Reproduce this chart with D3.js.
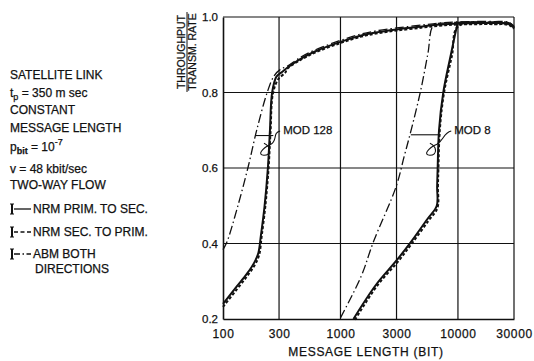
<!DOCTYPE html>
<html><head><meta charset="utf-8">
<script src="https://cdn.jsdelivr.net/npm/d3@7"></script>
<style>
body{margin:0;background:#fff;}
svg text{font-family:"Liberation Sans",Arial,sans-serif;fill:#111;stroke:#111;stroke-width:0.25px;}
</style></head><body>
<svg id="c" width="534" height="361"></svg>
<script>
// ---- data ----
const xTicks = [100, 300, 1000, 3000, 10000, 30000];
const yTicks = [0.2, 0.4, 0.6, 0.8, 1.0];
const xGrid = [300, 1000, 3000, 10000, 30000];
const yGrid = [0.4, 0.6, 0.8, 1.0];

// upper common envelope (message length, throughput)
const envelope = [[350,0.865],[450,0.888],[600,0.908],[1000,0.934],[1500,0.951],[2000,0.959],[3000,0.967],[5000,0.975],[7000,0.980],[10000,0.983],[20000,0.984],[27000,0.982],[30000,0.972]];
const envelopeTail = envelope.filter(d => d[0] >= 10000);

const nrmPrimMod128 = [[100,0.24],[130,0.285],[160,0.32],[185,0.35],[200,0.375],[210,0.42],[226,0.5],[241,0.6],[251,0.7],[262,0.8],[285,0.842],[320,0.855]];
const nrmSecMod128  = [[100,0.235],[130,0.28],[160,0.316],[187,0.347],[203,0.372],[213,0.42],[229,0.5],[244,0.6],[254,0.7],[266,0.8],[295,0.838],[340,0.856]];
const abmMod128     = [[100,0.38],[108,0.4],[135,0.5],[164,0.6],[195,0.7],[240,0.8],[272,0.84],[310,0.858]];

const nrmPrimMod8 = [[1290,0.2],[2000,0.29],[3000,0.355],[4000,0.405],[5500,0.465],[6600,0.5],[6650,0.55],[6720,0.6],[6900,0.7],[7500,0.8],[8700,0.9],[9800,0.975]];
const nrmSecMod8  = [[1330,0.2],[2050,0.29],[3050,0.352],[4050,0.402],[5600,0.462],[6700,0.497],[6750,0.55],[6820,0.6],[7000,0.7],[7600,0.8],[8900,0.9],[10000,0.977]];
const abmMod8     = [[1000,0.2],[1500,0.31],[1900,0.4],[2970,0.547],[3500,0.63],[3940,0.69],[4800,0.8],[5550,0.9],[6200,0.975],[8000,0.981]];

const infoLines = ["SATELLITE LINK", "tp", "CONSTANT", "MESSAGE LENGTH", "pbit", "v = 48 kbit/sec", "TWO-WAY FLOW"];
const legendItems = [["NRM PRIM. TO SEC.", "solid"], ["NRM SEC. TO PRIM.", "dash"], ["ABM BOTH", "dashdot"]];

// annotations in data space
const mod128Ann = {label: "MOD 128", lx: 325, ly: 0.69, from: 188, to: 268, y: 0.686, cx: 232, cy: 0.655};
const mod8Ann   = {label: "MOD 8",   lx: 9300, ly: 0.69, from: 3970, to: 7100, y: 0.688, cx: 6000, cy: 0.655};

// ---- chart ----
const svg = d3.select("#c");
const x = d3.scaleLog().domain([100, 30000]).range([223, 514]);
const y = d3.scaleLinear().domain([0.2, 1.0]).range([319, 17]);
const ink = "#111";

// grid
svg.append("g").selectAll("line").data(xGrid).join("line")
  .attr("x1", d => x(d)).attr("x2", d => x(d)).attr("y1", y(0.2)).attr("y2", y(1.0))
  .attr("stroke", ink).attr("stroke-width", 1.2);
svg.append("g").selectAll("line").data(yGrid).join("line")
  .attr("x1", x(100)).attr("x2", x(30000)).attr("y1", d => y(d)).attr("y2", d => y(d))
  .attr("stroke", ink).attr("stroke-width", 1.2);

// axes
const xAxis = svg.append("g").attr("transform", `translate(0,${y(0.2)})`)
  .call(d3.axisBottom(x).tickValues(xTicks).tickFormat(d3.format("d")).tickSize(0).tickPadding(10));
xAxis.select(".domain").attr("stroke", ink).attr("stroke-width", 1.6);
xAxis.selectAll("text").attr("font-size", 12).attr("letter-spacing", 0.6).attr("fill", ink)
  .style("font-family", "'Liberation Sans',Arial,sans-serif");

const yAxis = svg.append("g").attr("transform", `translate(${x(100)},0)`)
  .call(d3.axisLeft(y).tickValues(yTicks).tickFormat(d3.format(".1f")).tickSize(0).tickPadding(5));
yAxis.select(".domain").attr("stroke", ink).attr("stroke-width", 1.6);
yAxis.selectAll("text").attr("font-size", 11.5).attr("fill", ink)
  .style("font-family", "'Liberation Sans',Arial,sans-serif");

// axis titles
svg.append("text").attr("x", 366).attr("y", 356).attr("text-anchor", "middle")
  .attr("font-size", 12).attr("letter-spacing", 0.7).text("MESSAGE LENGTH  (BIT)");
const yt = svg.append("g").attr("transform", "translate(0,52) rotate(-90)");
yt.append("text").attr("x", 0).attr("y", 185).attr("text-anchor", "middle").attr("font-size", 10.5).text("THROUGHPUT");
yt.append("line").attr("x1", -40).attr("x2", 40).attr("y1", 187).attr("y2", 187).attr("stroke", ink).attr("stroke-width", 1);
yt.append("text").attr("x", 0).attr("y", 196).attr("text-anchor", "middle").attr("font-size", 10.5).text("TRANSM. RATE");

// curves
const lineS = d3.line().x(d => x(d[0])).y(d => y(d[1])).curve(d3.curveCatmullRom.alpha(0.5));
const styles = {
  solid: {w: 2.0, dash: null},
  dash: {w: 2.0, dash: "3,2"},
  dashdot: {w: 1.3, dash: "9,3,1.5,3"}
};
function draw(data, st, dy) {
  svg.append("path").datum(data.map(d => [d[0], d[1] + (dy || 0)]))
    .attr("d", lineS).attr("fill", "none").attr("stroke", ink)
    .attr("stroke-width", styles[st].w).attr("stroke-dasharray", styles[st].dash)
    .attr("stroke-linejoin", "round");
}
draw(nrmPrimMod128.concat(envelope), "solid");
draw(nrmSecMod128.concat(envelope.filter(d => d[0] > 340)), "dash", -0.003);
draw(abmMod128.concat(envelope.filter(d => d[0] > 310)), "dashdot", 0.004);
draw(nrmPrimMod8.concat(envelopeTail), "solid");
draw(nrmSecMod8.concat(envelopeTail.filter(d => d[0] > 10000)), "dash", -0.002);
draw(abmMod8.concat(envelopeTail), "dashdot", 0.003);

// annotations
function annotate(a) {
  const g = svg.append("g").attr("fill", "none").attr("stroke", ink).attr("stroke-width", 1.1);
  g.append("line").attr("x1", x(a.from)).attr("x2", x(a.to)).attr("y1", y(a.y)).attr("y2", y(a.y));
  const cx = x(a.cx), cy = y(a.cy), tx = x(a.lx) - 3, ty = y(a.ly) - 3;
  const p = d3.path();
  p.moveTo(tx, ty);
  p.bezierCurveTo(tx - 8, ty + 2, cx + 12, cy - 7, cx + 5, cy - 3);
  p.bezierCurveTo(cx - 4, cy + 1, cx - 9, cy + 8, cx - 2, cy + 8);
  p.bezierCurveTo(cx + 6, cy + 8, cx + 5, cy - 1, cx - 2, cy - 4);
  g.append("path").attr("d", p.toString());
  svg.append("text").attr("x", x(a.lx)).attr("y", y(a.ly)).attr("font-size", 11.5).text(a.label);
}
annotate(mod128Ann);
annotate(mod8Ann);

// info block
const info = svg.append("g").attr("font-size", 12);
const infoY = [79, 97, 114, 132, 151, 173, 189];
infoLines.forEach((t, i) => {
  const tx = info.append("text").attr("x", 10).attr("y", infoY[i]);
  if (t === "tp") {
    tx.append("tspan").text("t");
    tx.append("tspan").attr("font-size", 9).attr("dy", 3).text("p");
    tx.append("tspan").attr("dy", -3).text(" = 350 m sec");
  } else if (t === "pbit") {
    tx.append("tspan").text("p");
    tx.append("tspan").attr("font-size", 9).attr("dy", 3).attr("font-weight", "bold").text("bit");
    tx.append("tspan").attr("dy", -3).text(" = 10");
    tx.append("tspan").attr("font-size", 9).attr("dy", -6).text("-7");
  } else {
    tx.text(t);
  }
});

// legend
const legY = [213, 236, 258];
legendItems.forEach((it, i) => {
  const ly = legY[i] - 4;
  const g = svg.append("g").attr("stroke", ink);
  g.append("line").attr("x1", 12).attr("x2", 12).attr("y1", ly - 5).attr("y2", ly + 5).attr("stroke-width", 2);
  g.append("line").attr("x1", 10).attr("x2", 14).attr("y1", ly - 5).attr("y2", ly - 5).attr("stroke-width", 1);
  g.append("line").attr("x1", 10).attr("x2", 14).attr("y1", ly + 5).attr("y2", ly + 5).attr("stroke-width", 1);
  const sd = it[1] === "solid" ? null : it[1] === "dash" ? "4,2.5" : "6,2.5,1.5,2.5";
  g.append("line").attr("x1", 14).attr("x2", 31).attr("y1", ly).attr("y2", ly)
    .attr("stroke-width", 1.3).attr("stroke-dasharray", sd);
  svg.append("text").attr("x", 33).attr("y", legY[i]).attr("font-size", 12).text(it[0]);
});
svg.append("text").attr("x", 35).attr("y", 273).attr("font-size", 12).text("DIRECTIONS");
</script>
</body></html>
